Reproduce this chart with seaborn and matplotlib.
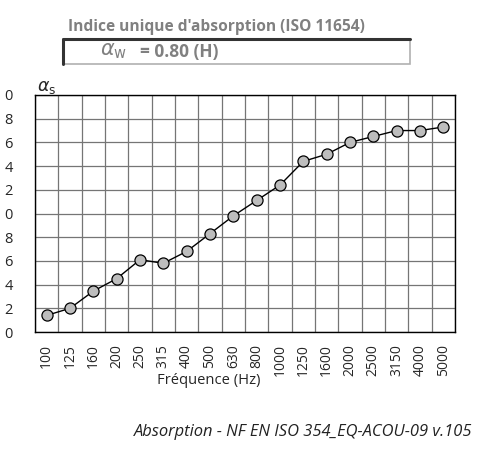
import numpy as np
import pandas as pd
import matplotlib
matplotlib.use("Agg")
import matplotlib.pyplot as plt
import seaborn as sns
from matplotlib.patches import Rectangle
from matplotlib.lines import Line2D

# --- data ---
freqs = ["100", "125", "160", "200", "250", "315", "400", "500", "630", "800",
         "1000", "1250", "1600", "2000", "2500", "3150", "4000", "5000"]
alpha_s = [0.14, 0.20, 0.345, 0.45, 0.61, 0.58, 0.68, 0.83, 0.98, 1.11,
           1.24, 1.44, 1.50, 1.60, 1.65, 1.70, 1.70, 1.73]
y_ticks = [0.0, 0.2, 0.4, 0.6, 0.8, 1.0, 1.2, 1.4, 1.6, 1.8, 2.0]
y_labels = ["0", "2", "4", "6", "8", "0", "2", "4", "6", "8", "0"]

df = pd.DataFrame({"pos": np.arange(len(freqs)), "alpha": alpha_s})

sns.set_style("white")
plt.rcParams["font.family"] = ["Open Sans", "DejaVu Sans"]

W, H = 490, 450
fig = plt.figure(figsize=(W / 100, H / 100), dpi=100)
ax = fig.add_axes([35 / W, 1 - 332 / H, 420 / W, 237 / H])

# grid (cell boundaries on x, every tick on y)
for b in np.arange(-0.5, len(freqs) + 0.5, 1):
    ax.axvline(b, color="#757575", lw=0.9, zorder=0)
for t in y_ticks:
    ax.axhline(t, color="#757575", lw=0.9, zorder=0)

sns.lineplot(data=df, x="pos", y="alpha", ax=ax, color="black", lw=1,
             marker="o", markersize=8, markerfacecolor="#bdbdbd",
             markeredgecolor="black", markeredgewidth=0.9, zorder=3)

ax.set_xlim(-0.5, len(freqs) - 0.5)
ax.set_ylim(0, 2.0)
ax.set_xticks(np.arange(len(freqs)))
ax.set_xticklabels(freqs, rotation=90, fontsize=10)
ax.set_xticks(np.arange(-0.5, len(freqs) + 0.5, 1), minor=True)
ax.tick_params(axis="x", which="major", length=0, pad=8.5)
ax.tick_params(axis="x", which="minor", length=4, width=0.9, color="black", direction="out")
ax.set_yticks(y_ticks)
ax.set_yticklabels(y_labels, fontsize=10.5)
ax.tick_params(axis="y", length=4, width=0.9, color="black", direction="out", pad=12)
ax.set_xlabel("")
ax.set_ylabel("")
for s in ax.spines.values():
    s.set_color("black")
    s.set_linewidth(1)

# alpha_s label at top of y axis
fig.text(37 / W, 1 - 88 / H, r"$\alpha_\mathrm{s}$", fontsize=12.5, ha="left", va="center")

# frequency axis label
fig.text(209 / W, 1 - 381 / H, "Fréquence (Hz)", fontsize=10.6, ha="center", va="center")

# header: single number rating
fig.text(68 / W, 1 - 27 / H, "Indice unique d'absorption (ISO 11654)",
         fontsize=11.2, fontweight="bold", color="#808080", ha="left", va="center")
x0, y0, x1, y1 = 63 / W, 1 - 64 / H, 410 / W, 1 - 39 / H
fig.patches.append(Rectangle((x0, y0), x1 - x0, y1 - y0, transform=fig.transFigure,
                             facecolor="white", edgecolor="#b0b0b0", lw=1.2))
fig.lines.append(Line2D([x0, x0, x1], [y0, y1, y1], transform=fig.transFigure,
                        color="#333333", lw=2.2))
fig.text(100 / W, 1 - 51 / H, r"$\alpha_\mathrm{w}$", fontsize=15, color="#808080",
         ha="left", va="center")
fig.text(140 / W, 1 - 52 / H, "= 0.80 (H)", fontsize=12.5, fontweight="bold",
         color="#808080", ha="left", va="center")

# footer
fig.text(472 / W, 1 - 432 / H, "Absorption - NF EN ISO 354_EQ-ACOU-09 v.105",
         fontsize=11.9, style="italic", color="#222222", ha="right", va="center")

fig.savefig("out.png", dpi=100)
